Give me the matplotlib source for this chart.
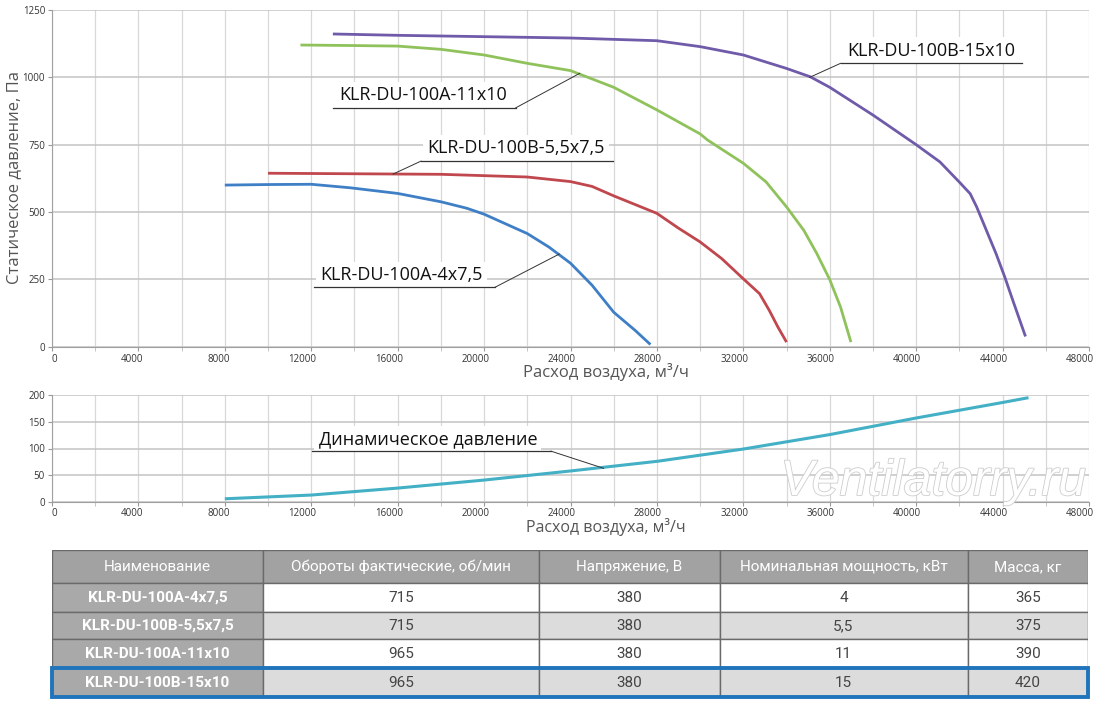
import matplotlib
matplotlib.use("Agg")
import matplotlib.pyplot as plt
import matplotlib.patheffects as pe
import matplotlib.transforms as mtrans
from matplotlib.patches import Rectangle

plt.rcParams["font.family"] = ["Open Sans", "DejaVu Sans"]

# --- данные: статическое давление, Па ---
x_4x75 = [8000, 10000, 12000, 13800, 16000, 18000, 19200, 20000, 22000, 23000,
          24000, 25000, 26000, 27000, 27700]
y_4x75 = [600, 602, 603, 590, 569, 538, 514, 492, 420, 370, 310, 228, 128, 60, 8]

x_55x75 = [10000, 14000, 18000, 20000, 22000, 24000, 25000, 26000, 28000, 29000,
           30000, 31000, 32000, 32750, 33200, 33600, 34000]
y_55x75 = [644, 642, 640, 635, 630, 613, 595, 560, 495, 440, 389, 327, 252, 197,
           135, 73, 17]

x_11x10 = [11500, 14000, 16000, 18000, 20000, 22000, 24000, 26000, 28000, 30000,
           30350, 32000, 33050, 34000, 34800, 35400, 36000, 36500, 36980]
y_11x10 = [1120, 1118, 1116, 1104, 1083, 1052, 1025, 963, 879, 790, 767, 681, 612,
           519, 432, 346, 249, 147, 17]

x_15x10 = [13000, 16000, 20000, 24000, 28000, 30000, 32000, 34000, 35100, 36000,
           38000, 40000, 41100, 42000, 42500, 42800, 43250, 43700, 44100, 44500,
           45060]
y_15x10 = [1161, 1156, 1151, 1146, 1136, 1114, 1083, 1033, 1002, 963, 860, 750, 686,
           611, 568, 519, 432, 345, 259, 166, 38]

# --- динамическое давление ---
x_dyn = [8000, 12000, 16000, 20000, 24000, 28000, 32000, 36000, 40000, 44000, 45200]
y_dyn = [6, 13, 26, 41, 58, 76, 99, 126, 157, 186, 195]

x_ticks = list(range(0, 48001, 4000))
y_ticks_top = [0, 250, 500, 750, 1000, 1250]
y_ticks_bot = [0, 50, 100, 150, 200]

# --- таблица ---
table_header = ["Наименование", "Обороты фактические, об/мин", "Напряжение, В",
                "Номинальная мощность, кВт", "Масса, кг"]
models = ["KLR-DU-100A-4x7,5", "KLR-DU-100B-5,5x7,5", "KLR-DU-100A-11x10",
          "KLR-DU-100B-15x10"]
rpm = ["715", "715", "965", "965"]
voltage = ["380", "380", "380", "380"]
power = ["4", "5,5", "11", "15"]
mass = ["365", "375", "390", "420"]

W, H = 1100, 702
fig = plt.figure(figsize=(W / 100, H / 100), dpi=100)
ax1 = fig.add_axes([52 / W, 1 - 346.7 / H, 1037 / W, 336.7 / H])
ax2 = fig.add_axes([52 / W, 1 - 502 / H, 1037 / W, 107 / H])

TXT = "#555555"


def style(ax, yticks, pad):
    ax.set_xlim(0, 48000)
    ax.set_ylim(yticks[0], yticks[-1])
    ax.set_xticks(x_ticks)
    ax.set_xticks(range(0, 48001, 2000), minor=True)
    ax.set_yticks(yticks)
    ax.tick_params(labelsize=7, colors="#999999", labelcolor="#333333", length=3,
                   width=0.8, pad=2)
    ax.tick_params(axis="x", pad=pad)
    ax.tick_params(which="minor", length=3, colors="#bbbbbb")
    ax.grid(which="minor", axis="x", color="#d8d8d8", lw=0.9)
    ax.grid(which="major", axis="x", color="#d8d8d8", lw=0.9)
    ax.grid(which="major", axis="y", color="#c4c4c4", lw=1.1)
    for s in ("top", "right"):
        ax.spines[s].set_visible(False)
    for s in ("left", "bottom"):
        ax.spines[s].set_color("#a0a0a0")
    ax.set_axisbelow(True)
    # подписи делений прижаты вправо к линии сетки, как в оригинале
    shift = mtrans.ScaledTranslation(5 / 100, 0, fig.dpi_scale_trans)
    for lab in ax.get_xticklabels():
        lab.set_ha("right")
        lab.set_transform(lab.get_transform() + shift)


style(ax1, y_ticks_top, 2)
style(ax2, y_ticks_bot, 1)

kw = dict(solid_capstyle="butt", solid_joinstyle="round")
ax1.plot(x_4x75, y_4x75, color="#3f7fc6", lw=2.0, **kw)
ax1.plot(x_55x75, y_55x75, color="#c0474d", lw=2.0, **kw)
ax1.plot(x_11x10, y_11x10, color="#90c25c", lw=2.0, **kw)
ax1.plot(x_15x10, y_15x10, color="#6f5ba9", lw=2.0, **kw)
ax2.plot(x_dyn, y_dyn, color="#43b0c5", lw=2.2, **kw)

box = dict(facecolor="white", edgecolor="none", pad=3)


def callout(ax, text, x0, x1, y, tip, from_left, ty):
    ax.text(x0 + 300, ty, text, fontsize=13, color="#111111", va="bottom",
            ha="left", bbox=box, zorder=4)
    ax.plot([x0, x1], [y, y], color="#333333", lw=0.9, zorder=5)
    start = (x0, y) if from_left else (x1, y)
    ax.plot([start[0], tip[0]], [start[1], tip[1]], color="#333333", lw=0.7,
            zorder=5)


callout(ax1, "KLR-DU-100B-15x10", 36500, 44900, 1052, (35070, 1000), True, 1066)
callout(ax1, "KLR-DU-100A-11x10", 13010, 21470, 887, (24430, 1015), False, 901)
callout(ax1, "KLR-DU-100B-5,5x7,5", 17080, 25970, 689, (15790, 641), True, 703)
callout(ax1, "KLR-DU-100A-4x7,5", 12130, 20490, 220, (23480, 344), False, 234)
callout(ax2, "Динамическое давление", 12040, 23100, 95, (25530, 63), False, 101)

fig.text(14 / W, 1 - 178 / H, "Статическое давление, Па", rotation=90,
         ha="center", va="center", fontsize=12, color=TXT)
fig.text(606 / W, 1 - 372 / H, "Расход воздуха, м³/ч", ha="center", va="center",
         fontsize=12, color=TXT)
fig.text(606 / W, 1 - 527 / H, "Расход воздуха, м³/ч", ha="center", va="center",
         fontsize=11.5, color=TXT)

fig.text(933 / W, 1 - 482 / H, "Ventilatorry.ru", ha="center", va="center",
         fontsize=36, style="italic", color="white", zorder=10,
         family=["Liberation Sans Narrow", "Liberation Sans", "DejaVu Sans"],
         path_effects=[pe.withStroke(linewidth=1.2, foreground="#cdcdcd")])

# --- таблица ---
tab = fig.add_axes([52 / W, 1 - 697 / H, 1036 / W, 147 / H])
tab.set_xlim(0, 1036)
tab.set_ylim(147, 0)
tab.axis("off")
col_w = [211, 276, 180.5, 248, 120.5]
row_h = [32.7, 29, 27.6, 28.4, 29.3]
cols = [models, rpm, voltage, power, mass]
narrow = ["Liberation Sans Narrow", "Roboto", "DejaVu Sans"]

y = 0
for r in range(5):
    x = 0
    for c in range(5):
        if r == 0:
            fc, txt, tc, fw = "#a2a2a2", table_header[c], "white", "normal"
        elif c == 0:
            fc, txt, tc, fw = "#a9a9a9", cols[0][r - 1], "white", "bold"
        else:
            fc = "white" if r % 2 == 1 else "#dcdcdc"
            txt, tc, fw = cols[c][r - 1], "#444444", "normal"
        tab.add_patch(Rectangle((x, y), col_w[c], row_h[r], facecolor=fc,
                                edgecolor="#6a6a6a", lw=1.0))
        tab.text(x + col_w[c] / 2, y + row_h[r] / 2 + 0.5, txt, ha="center",
                 va="center", fontsize=11, color=tc, fontweight=fw, family=narrow)
        x += col_w[c]
    y += row_h[r]

# выделение последней строки
tab.add_patch(Rectangle((0, sum(row_h[:4])), sum(col_w), row_h[4], facecolor="none",
                        edgecolor="#1f74bb", lw=2.8, zorder=6, clip_on=False))

fig.savefig("out.png", dpi=100)
